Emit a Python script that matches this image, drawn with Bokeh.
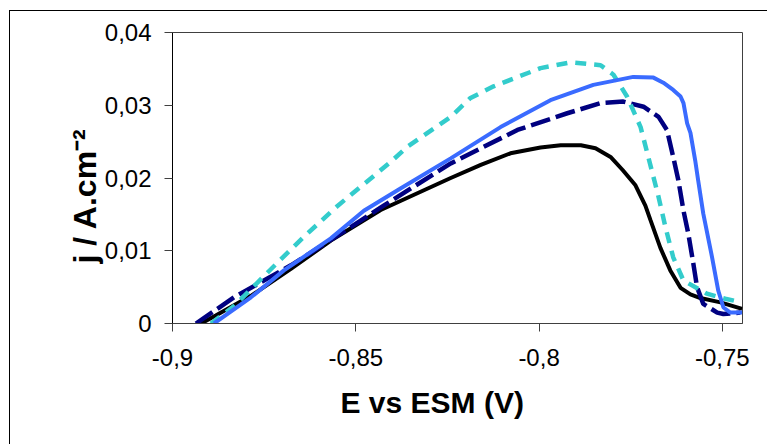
from bokeh.plotting import figure
from bokeh.models import Range1d, FixedTicker, Title
from bokeh.embed import file_html
from bokeh.resources import INLINE

# ---- data ----
black_x = [-0.8922, -0.8882, -0.8786, -0.8677, -0.8568, -0.8432, -0.8241, -0.8159,
           -0.8078, -0.7996, -0.7941, -0.7886, -0.7846, -0.7805, -0.7772, -0.7737,
           -0.7710, -0.7696, -0.7669, -0.7642, -0.7614, -0.7587, -0.7560, -0.7505,
           -0.7446]
black_y = [0.0, 0.0011, 0.0038, 0.0075, 0.0114, 0.0156, 0.0200, 0.0218,
           0.0234, 0.0242, 0.0245, 0.0245, 0.0241, 0.0229, 0.0211, 0.0190,
           0.0162, 0.0142, 0.0104, 0.0073, 0.0049, 0.0040, 0.0035, 0.0029,
           0.0020]

navy_x = [-0.8936, -0.8832, -0.8677, -0.8549, -0.8424, -0.8241, -0.8059, -0.7923,
          -0.7832, -0.7770, -0.7715, -0.7674, -0.7651, -0.7634, -0.7620, -0.7606,
          -0.7593, -0.7579, -0.7569, -0.7552, -0.7514, -0.7497, -0.7451]
navy_y = [0.0, 0.0036, 0.0080, 0.0121, 0.0162, 0.0220, 0.0266, 0.0289,
          0.0303, 0.0305, 0.0298, 0.0284, 0.0266, 0.0229, 0.0197, 0.0155,
          0.0124, 0.0082, 0.0050, 0.0027, 0.0015, 0.0013, 0.0015]

cyan_x = [-0.8895, -0.8832, -0.8713, -0.8642, -0.8549, -0.8405, -0.8359, -0.8241,
          -0.8187, -0.8124, -0.8032, -0.7996, -0.7914, -0.7832, -0.7797, -0.7760,
          -0.7723, -0.7674, -0.7655, -0.7634, -0.7606, -0.7542, -0.7492, -0.7465]
cyan_y = [0.0, 0.0024, 0.0084, 0.0119, 0.0162, 0.0222, 0.0243, 0.0284,
          0.0310, 0.0326, 0.0344, 0.0351, 0.0359, 0.0355, 0.0342, 0.0312,
          0.0270, 0.0174, 0.0132, 0.0091, 0.0059, 0.0041, 0.0034, 0.0031]

blue_x = [-0.8887, -0.8786, -0.8696, -0.8568, -0.8478, -0.8377, -0.8241, -0.8105,
          -0.7969, -0.7852, -0.7743, -0.7688, -0.7661, -0.7634, -0.7614, -0.7606,
          -0.7596, -0.7587, -0.7574, -0.7566, -0.7552, -0.7528, -0.7511, -0.7497,
          -0.7478, -0.7446]
blue_y = [0.0, 0.0036, 0.0073, 0.0117, 0.0155, 0.0186, 0.0227, 0.0270,
          0.0307, 0.0328, 0.0339, 0.0338, 0.0331, 0.0321, 0.0312, 0.0303,
          0.0275, 0.0262, 0.0224, 0.0197, 0.0151, 0.0091, 0.0045, 0.0022,
          0.0015, 0.0015]

xtick_values = [-0.9, -0.85, -0.8, -0.75]
xtick_labels = ["-0,9", "-0,85", "-0,8", "-0,75"]
ytick_values = [0, 0.01, 0.02, 0.03, 0.04]
ytick_labels = ["0", "0,01", "0,02", "0,03", "0,04"]

x_title = "E vs ESM (V)"
y_title = "j / A.cm\u207b\u00b2"

FONT = "Liberation Sans"

p = figure(width=758, height=434, output_backend="svg", toolbar_location=None,
           x_range=Range1d(-0.9, -0.7445), y_range=Range1d(0, 0.04),
           min_border_left=162, min_border_right=26, min_border_top=21,
           min_border_bottom=122)
p.styles = {"margin-left": "9px", "margin-top": "10px",
            "border-left": "1px solid black", "border-top": "1px solid black"}

p.xgrid.visible = False
p.ygrid.visible = False
p.outline_line_color = "#404040"
p.outline_line_width = 1
p.background_fill_color = "white"
p.border_fill_color = "white"

for ax in (p.xaxis[0], p.yaxis[0]):
    ax.major_label_text_font = FONT
    ax.major_label_text_font_size = "24px"
    ax.major_label_text_color = "black"
    ax.major_tick_out = 8
    ax.major_tick_in = 0
    ax.minor_tick_out = 0
    ax.minor_tick_in = 0

p.xaxis.ticker = FixedTicker(ticks=xtick_values)
p.xaxis.major_label_overrides = {v: l for v, l in zip(xtick_values, xtick_labels)}
p.yaxis.ticker = FixedTicker(ticks=ytick_values)
p.yaxis.major_label_overrides = {v: l for v, l in zip(ytick_values, ytick_labels)}
p.xaxis.axis_line_color = "#404040"
p.xaxis.major_tick_line_color = "#404040"
p.yaxis.axis_line_color = "black"
p.yaxis.major_tick_line_color = "#404040"
p.xaxis.major_label_standoff = 17
p.yaxis.major_label_standoff = 13

# axis titles as side-panel titles (exact placement)
p.add_layout(Title(text=x_title, align="left", offset=168, standoff=30,
                   text_font=FONT, text_font_style="bold", text_font_size="30px",
                   text_color="black"), "below")
p.add_layout(Title(text=y_title, align="left", offset=60, standoff=-3,
                   text_font=FONT, text_font_style="bold", text_font_size="32px",
                   text_color="black"), "left")

# curves
p.line(black_x, black_y, line_color="black", line_width=4)
p.line(navy_x, navy_y, line_color="#000080", line_width=4.5, line_dash="20 6")
p.line(cyan_x, cyan_y, line_color="#33CCCC", line_width=4.5, line_dash="11 8")
p.line(blue_x, blue_y, line_color="#3A6BFF", line_width=4)

open("out.html", "w").write(file_html(p, INLINE))
